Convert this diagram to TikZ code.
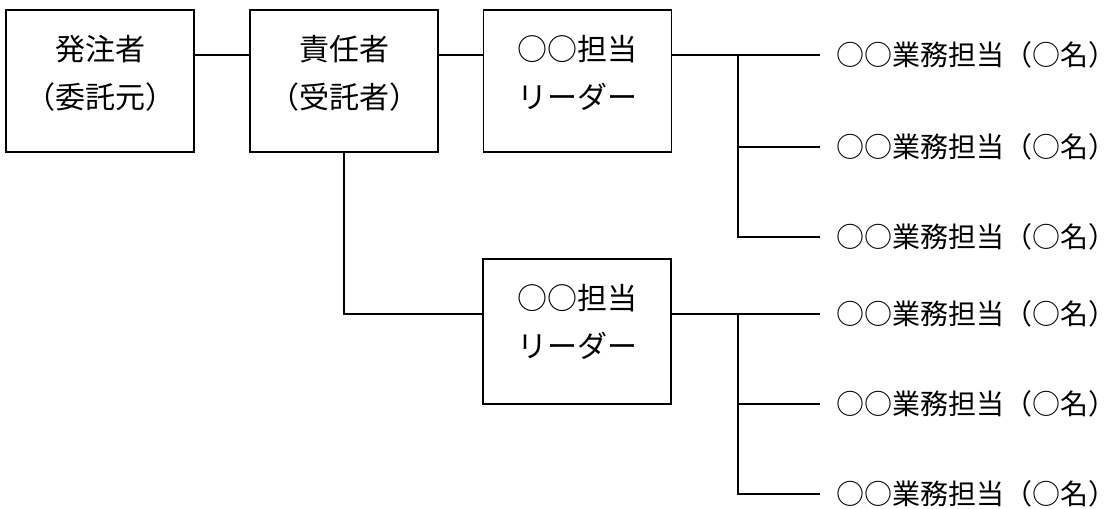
\documentclass[tikz,border=0pt]{standalone}
\usepackage{fontspec}
\setmainfont{Noto Sans CJK JP}
\usetikzlibrary{positioning}

\tikzset{every picture/.style={line width=0.75pt}}
\tikzset{
  orgbox/.style={draw, line width=1.4pt, minimum width=141pt, minimum height=106.5pt, inner sep=0pt},
  boxtext/.style={anchor=north, align=center, inner xsep=0pt, inner ysep=19pt, font=\fontsize{22.5}{36.5}\selectfont},
  member/.style={anchor=west, inner sep=0pt, font=\fontsize{21}{26}\selectfont},
  link/.style={line width=1.1pt},
  tomember/.style={link, shorten >=12pt},
}

\begin{document}
\begin{tikzpicture}[x=0.75pt,y=0.75pt,yscale=-1,xscale=1]
		\useasboundingbox (0,0) rectangle (1120,509);
		
		%Shape: Rectangle [client]
		\node[orgbox, label={[boxtext]north:発注者\\（委託元）}] (client) at (100,81) {};
		%Shape: Rectangle [manager]
		\node[orgbox, label={[boxtext]north:責任者\\（受託者）}] (manager) at (344,81) {};
		%Shape: Rectangle [leadA]
		\node[orgbox, label={[boxtext]north:○○担当\\リーダー}] (leadA) at (577.5,81) {};
		%Shape: Rectangle [leadB]
		\node[orgbox, minimum height=108.75pt, label={[boxtext]north:○○担当\\リーダー}] (leadB) at (577,331.5) {};
		
		\node[member] (w1) at (836,55) {○○業務担当（○名）};
		\node[member] (w2) at (836,147) {○○業務担当（○名）};
		\node[member] (w3) at (836,237) {○○業務担当（○名）};
		\node[member] (w4) at (836,314) {○○業務担当（○名）};
		\node[member] (w5) at (836,404) {○○業務担当（○名）};
		\node[member] (w6) at (836,494) {○○業務担当（○名）};
		
		\coordinate (trunkA) at (738,55);
		\coordinate (trunkB) at (738,314);
		
		\draw[link] (client.east |- w1) -- (manager.west |- w1);
		\draw[link] (manager.east |- w1) -- (leadA.west |- w1);
		\draw[tomember] (leadA.east |- w1) -- (w1.west);
		\draw[tomember] (trunkA |- w1) -- (trunkA |- w3) -- (w3.west);
		\draw[tomember] (trunkA |- w2) -- (w2.west);
		
		\draw[link] (manager.south) |- (leadB.west |- w4);
		\draw[tomember] (leadB.east |- w4) -- (w4.west);
		\draw[tomember] (trunkB |- w4) -- (trunkB |- w6) -- (w6.west);
		\draw[tomember] (trunkB |- w5) -- (w5.west);
		
\end{tikzpicture}
\end{document}
